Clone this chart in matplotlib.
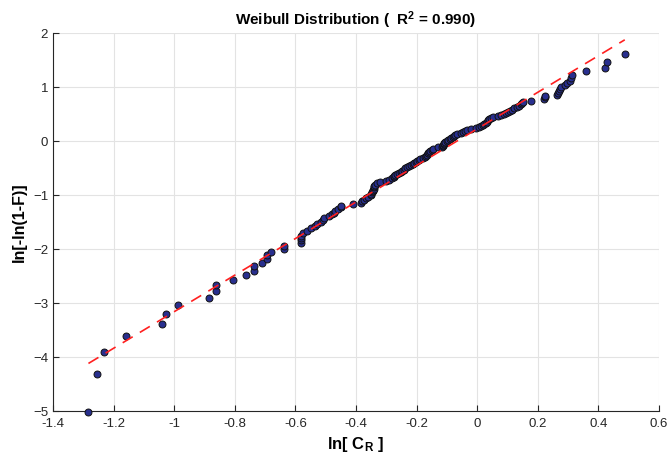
import matplotlib
matplotlib.use("Agg")
import matplotlib.pyplot as plt
import numpy as np

plt.rcParams["font.family"] = ["Liberation Sans", "DejaVu Sans"]
plt.rcParams["mathtext.fontset"] = "custom"
plt.rcParams["mathtext.rm"] = "Liberation Sans"
plt.rcParams["mathtext.bf"] = "Liberation Sans:bold"
plt.rcParams["mathtext.it"] = "Liberation Sans:italic"

# ln(C_R) of each specimen, sorted ascending
ln_cr = [
    -1.283, -1.256, -1.232, -1.160, -1.041, -1.027, -0.987, -0.885, -0.863, -0.863,
    -0.805, -0.763, -0.736, -0.736, -0.710, -0.695, -0.693, -0.681, -0.637, -0.637,
    -0.583, -0.583, -0.581, -0.580, -0.575, -0.563, -0.549, -0.535, -0.528, -0.515,
    -0.510, -0.506, -0.489, -0.480, -0.472, -0.469, -0.458, -0.450, -0.448, -0.411,
    -0.383, -0.379, -0.372, -0.367, -0.359, -0.352, -0.350, -0.347, -0.345, -0.343,
    -0.342, -0.341, -0.340, -0.338, -0.330, -0.320, -0.300, -0.292, -0.282, -0.276,
    -0.274, -0.270, -0.264, -0.258, -0.252, -0.247, -0.242, -0.237, -0.231, -0.224,
    -0.217, -0.211, -0.207, -0.203, -0.198, -0.193, -0.190, -0.180, -0.173, -0.170,
    -0.165, -0.162, -0.161, -0.160, -0.156, -0.150, -0.145, -0.130, -0.117, -0.114,
    -0.112, -0.110, -0.108, -0.105, -0.100, -0.095, -0.090, -0.085, -0.081, -0.078,
    -0.073, -0.068, -0.055, -0.048, -0.040, -0.033, -0.020, -0.005, 0.005, 0.012,
    0.020, 0.024, 0.028, 0.032, 0.036, 0.040, 0.046, 0.052, 0.068, 0.078,
    0.088, 0.095, 0.100, 0.108, 0.115, 0.122, 0.130, 0.138, 0.144, 0.148,
    0.152, 0.178, 0.221, 0.223, 0.224, 0.265, 0.268, 0.270, 0.273, 0.278,
    0.290, 0.298, 0.305, 0.309, 0.312, 0.359, 0.422, 0.429, 0.487,
]

# ln[-ln(1-F)] plotting position of each specimen
ln_ln_f = [
    -5.01, -4.31, -3.90, -3.61, -3.38, -3.20, -3.04, -2.90, -2.78, -2.67,
    -2.58, -2.48, -2.40, -2.32, -2.25, -2.18, -2.12, -2.06, -2.00, -1.94,
    -1.89, -1.84, -1.79, -1.75, -1.70, -1.66, -1.62, -1.58, -1.54, -1.50,
    -1.46, -1.43, -1.39, -1.36, -1.33, -1.29, -1.26, -1.23, -1.20, -1.17,
    -1.14, -1.11, -1.09, -1.06, -1.03, -1.00, -0.98, -0.95, -0.93, -0.90,
    -0.88, -0.85, -0.83, -0.81, -0.78, -0.76, -0.74, -0.72, -0.69, -0.67,
    -0.65, -0.63, -0.61, -0.59, -0.57, -0.55, -0.53, -0.50, -0.48, -0.46,
    -0.44, -0.43, -0.41, -0.39, -0.37, -0.35, -0.33, -0.31, -0.29, -0.27,
    -0.25, -0.23, -0.22, -0.20, -0.18, -0.16, -0.14, -0.12, -0.11, -0.09,
    -0.07, -0.05, -0.03, -0.02, 0.00, 0.02, 0.04, 0.06, 0.08, 0.09,
    0.11, 0.13, 0.15, 0.17, 0.19, 0.20, 0.22, 0.24, 0.26, 0.28,
    0.30, 0.32, 0.34, 0.36, 0.38, 0.40, 0.42, 0.44, 0.46, 0.48,
    0.50, 0.52, 0.54, 0.56, 0.58, 0.61, 0.63, 0.65, 0.68, 0.70,
    0.73, 0.75, 0.78, 0.81, 0.83, 0.86, 0.89, 0.93, 0.96, 1.00,
    1.03, 1.08, 1.12, 1.17, 1.22, 1.29, 1.36, 1.46, 1.61,
]

# Least-squares Weibull line
fit_slope = 3.386
fit_intercept = 0.225
r_squared = 0.990

x_ticks = [-1.4, -1.2, -1.0, -0.8, -0.6, -0.4, -0.2, 0.0, 0.2, 0.4, 0.6]
x_tick_labels = ["-1.4", "-1.2", "-1", "-0.8", "-0.6", "-0.4", "-0.2", "0", "0.2", "0.4", "0.6"]
y_ticks = [-5, -4, -3, -2, -1, 0, 1, 2]

fig = plt.figure(figsize=(6.7, 4.68), dpi=100)
ax = fig.add_axes([53 / 670, 57 / 468, 606 / 670, 378 / 468])

ax.plot(ln_cr, ln_ln_f, linestyle="none", marker="o", markersize=5,
        markerfacecolor="#282f8e", markeredgecolor="#111111",
        markeredgewidth=0.7, zorder=3, clip_on=False)

x_fit = np.array([min(ln_cr), max(ln_cr)])
ax.plot(x_fit, fit_intercept + fit_slope * x_fit, color="#ff2020",
        linewidth=1.2, dashes=(7, 5), zorder=4)

ax.set_xlim(-1.4, 0.6)
ax.set_ylim(-5, 2)
ax.set_xticks(x_ticks)
ax.set_xticklabels(x_tick_labels)
ax.set_yticks(y_ticks)

ax.grid(True, color="#e3e3e3", linewidth=0.8)
ax.set_axisbelow(True)
for side in ("top", "right"):
    ax.spines[side].set_visible(False)
for side in ("left", "bottom"):
    ax.spines[side].set_color("#262626")
    ax.spines[side].set_linewidth(0.8)
ax.tick_params(direction="in", length=4, width=0.8, colors="#262626",
               labelsize=9.5, labelcolor="#262626")
ax.tick_params(axis="x", pad=5)

ax.set_xlabel(r"ln[ $\mathbf{C_R}$ ]", fontsize=12, fontweight="bold", labelpad=4)
ax.set_ylabel("ln[-ln(1-F)]", fontsize=11.5, fontweight="bold", labelpad=4)
ax.set_title(f"Weibull Distribution (  R$^\\mathbf{{2}}$ = {r_squared:.3f})",
             fontsize=11, fontweight="bold", pad=6)

fig.savefig("out.png", dpi=100)
